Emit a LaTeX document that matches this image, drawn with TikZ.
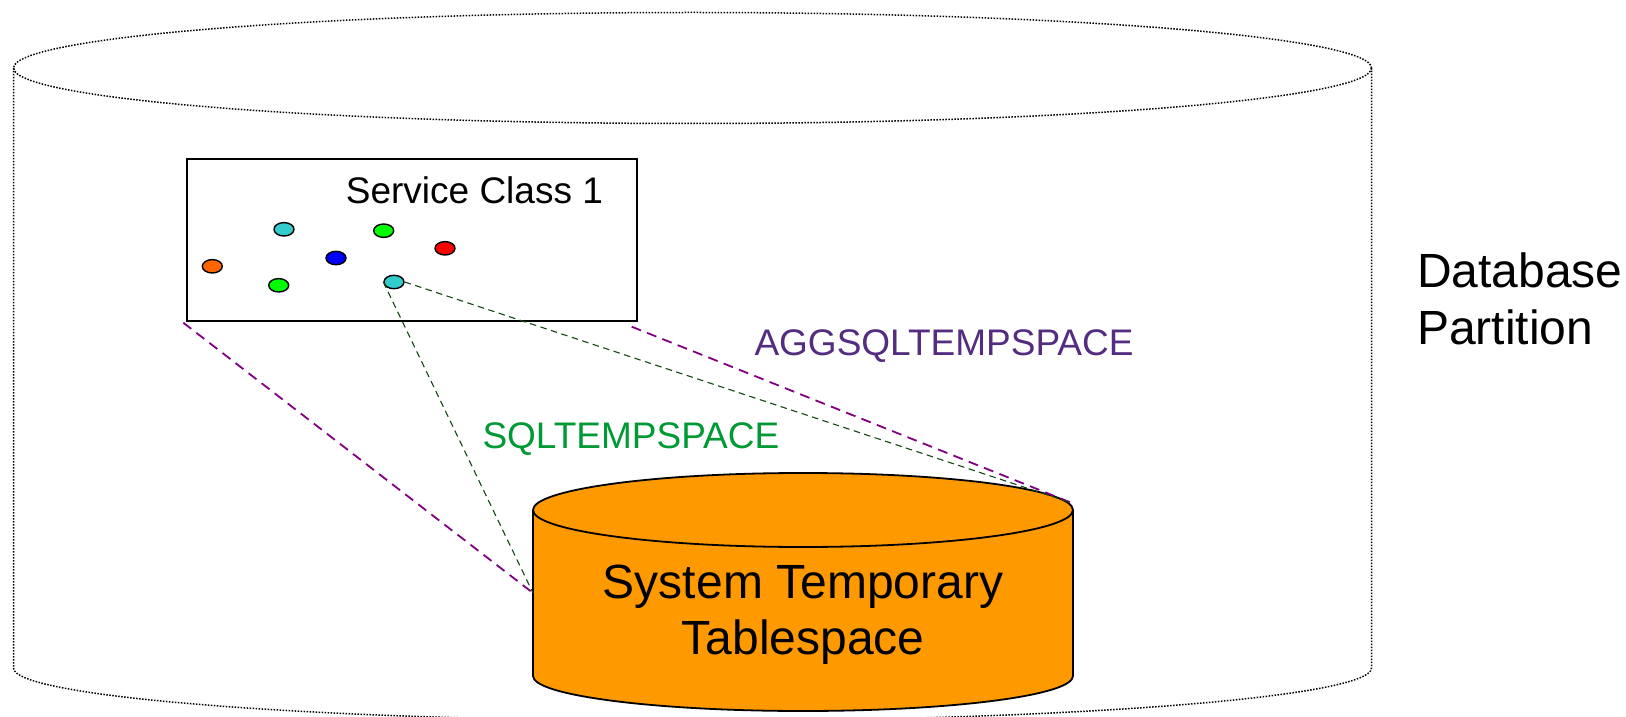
\documentclass[tikz,border=0pt]{standalone}
\usepackage{fontspec}
\setmainfont{Liberation Sans}
\usetikzlibrary{shapes.geometric}
\definecolor{cylorange}{RGB}{255,153,0}
\definecolor{dotcyan}{RGB}{51,204,204}
\definecolor{dotgreen}{RGB}{0,255,0}
\definecolor{dotred}{RGB}{255,0,0}
\definecolor{dotblue}{RGB}{0,0,255}
\definecolor{dotorange}{RGB}{255,102,0}
\definecolor{aggpurple}{RGB}{84,44,128}
\definecolor{sqlgreen}{RGB}{0,153,51}
\definecolor{linepurple}{RGB}{128,0,128}
\definecolor{linegreen}{RGB}{20,70,20}
\begin{document}
\begin{tikzpicture}[x=1pt,y=1pt,
  outerline/.style={line width=1.5pt, dash pattern=on 1.5pt off 1.5pt, black},
  dotnode/.style={ellipse, draw=black, line width=1.4pt, minimum width=20pt, minimum height=13.4pt, inner sep=0pt},
  smalltext/.style={inner sep=0pt, font=\fontsize{37}{44}\selectfont},
  bigtext/.style={inner sep=0pt, font=\fontsize{48}{56}\selectfont},
  purpleconn/.style={linepurple, line width=1.8pt, dash pattern=on 10pt off 6.5pt},
  greenconn/.style={linegreen, line width=1.1pt, dash pattern=on 6.5pt off 4.5pt}
]
\useasboundingbox (0,0) rectangle (1626,716);
% outer database partition cylinder (dotted)
\draw[outerline] (692.5,648) ellipse [x radius=679pt, y radius=55.5pt];
\draw[outerline] (13.5,648) -- (13.5,48)
  arc[start angle=180, end angle=360, x radius=679pt, y radius=53pt] -- (1371.5,648);
% system temporary tablespace cylinder
\fill[cylorange] (533,206) -- (533,40)
  arc[start angle=180, end angle=360, x radius=270pt, y radius=35pt] -- (1073,206)
  arc[start angle=0, end angle=180, x radius=270pt, y radius=37pt] -- cycle;
\draw[line width=1.8pt] (533,206) -- (533,40)
  arc[start angle=180, end angle=360, x radius=270pt, y radius=35pt] -- (1073,206);
\draw[line width=1.8pt] (803,206) ellipse [x radius=270pt, y radius=37pt];
\node[bigtext, anchor=base] (sys1) at (803,117.7) {System Temporary};
\node[bigtext, anchor=base] (sys2) at (803,62) {Tablespace};
% service class box
\node[draw=black, line width=2pt, minimum width=450pt, minimum height=161.7pt, inner sep=0pt] (box) at (411.7,476.2) {};
\node[smalltext, anchor=base west] (sc) at (345.7,512.7) {Service Class 1};
% dots
\node[dotnode, fill=dotcyan] (c1) at (284,486.7) {};
\node[dotnode, fill=dotgreen] (g1) at (383.7,485.3) {};
\node[dotnode, fill=dotred] (r1) at (445,467.7) {};
\node[dotnode, fill=dotblue] (b1) at (336,458) {};
\node[dotnode, fill=dotorange] (o1) at (212.3,449.7) {};
\node[dotnode, fill=dotgreen] (g2) at (278.7,430.7) {};
\node[dotnode, fill=dotcyan] (c2) at (394,434) {};
% labels
\node[smalltext, anchor=base west, text=aggpurple] (agg) at (754.3,360) {AGGSQLTEMPSPACE};
\node[smalltext, anchor=base west, text=sqlgreen] (sql) at (482.3,267.7) {SQLTEMPSPACE};
\node[bigtext, anchor=base west] (db1) at (1417,428) {Database};
\node[bigtext, anchor=base west] (db2) at (1417,371) {Partition};
% connector end points
\coordinate (pA) at (183.3,393.3);
\coordinate (pB) at (631.7,389.3);
\coordinate (cylL) at (533,123);
\coordinate (cylR) at (1072,213);
% connectors
\draw[purpleconn] (pA) -- (cylL);
\draw[purpleconn] (pB) -- (cylR);
\draw[greenconn] (c2.west) -- (cylL);
\draw[greenconn] (c2.east) -- (cylR);
\end{tikzpicture}
\end{document}
